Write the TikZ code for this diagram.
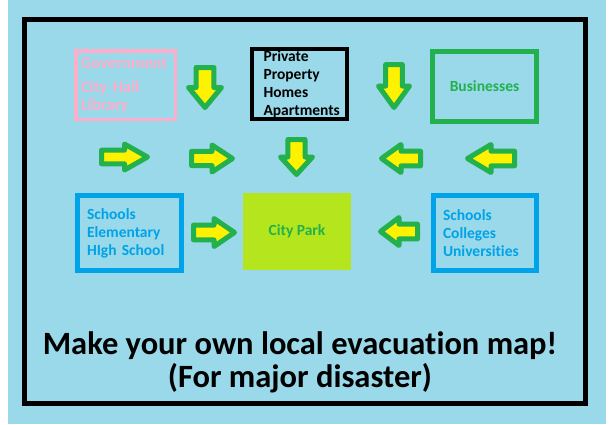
\documentclass[tikz,border=0pt]{standalone}
\usepackage{fontspec}
\setmainfont{Carlito}[Ligatures=CommonOff]
\definecolor{mapblue}{HTML}{99D9EA}
\definecolor{rose}{HTML}{FFAEC9}
\definecolor{exitgreen}{HTML}{22B14C}
\definecolor{exityellow}{HTML}{FFF200}
\definecolor{schoolblue}{HTML}{00A2E8}
\definecolor{parklime}{HTML}{B5E61D}

\begin{document}
\begin{tikzpicture}[x=1pt,y=-1pt,
  font=\fontsize{15.5}{18}\selectfont\bfseries,
  place/.style={minimum width=104,minimum height=70,inner sep=0pt,align=left},
  exit/.style={draw=exitgreen,fill=exityellow,line width=5pt,line join=round}]
\useasboundingbox (0,0) rectangle (615,424);
\fill[mapblue] (8,0) rectangle (606,424);
\draw[line width=5pt] (24.5,19.5) rectangle (585,403.5);
% places to leave from
\node[place,draw=rose,line width=3.5pt,minimum width=99.5,minimum height=68.5,text=rose,text width=89,
  font=\fontsize{16.5}{18}\selectfont\bfseries] (gov) at (125.5,85) {Government\\[6pt]City Hall\\Library};
\node[place,minimum width=95,text width=72] (home) at (299.5,84) {Private\\Property\\Homes\\Apartments};
\draw[line width=4pt] (home.north west) rectangle (home.south east);
\node[place,draw=exitgreen,line width=5pt,text=exitgreen,align=center] (shops) at (484.5,86.5) {Businesses};
\node[place,draw=schoolblue,line width=5pt,minimum height=75,text=schoolblue,text width=85] (schoolL) at (129.5,233) {Schools\\Elementary\\HIgh School};
\node[place,draw=schoolblue,line width=5pt,minimum width=103,minimum height=75,text=schoolblue,text width=84] (schoolR) at (485,233) {Schools\\Colleges\\Universities};
% meeting point
\node[place,fill=parklime,minimum width=108,minimum height=77,text=exitgreen,align=center] (park) at (297,231.5) {City Park};
% arrows: name/x/y/rotation/outer length/outer width
\foreach \n/\x/\y/\r/\lo/\wo in {d1/205/87.5/-90/45/38,d2/394/86/-90/48/36,d3/296.5/157/-90/40/37,
  r1/124.5/157/0/51/31,r2/212/158.5/0/46/32,r3/214/232.5/0/46/33,
  l1/401/158.5/180/44/33,l2/491/158.5/180/52/33,l3/399/231.5/180/42/33}{
  \pgfmathsetmacro\al{(\lo-5)/2}
  \pgfmathsetmacro\aw{(\wo-5)/2}
  \pgfmathsetmacro\as{(0.6*\wo-5)/2}
  \pgfmathsetmacro\ab{\al-(0.5*\lo-2.5)}
  \filldraw[exit,shift={(\x,\y)},rotate=\r] (-\al,-\as) -- (\ab,-\as) -- (\ab,-\aw) -- (\al,0)
    -- (\ab,\aw) -- (\ab,\as) -- (-\al,\as) -- cycle;}
\node[font=\fontsize{32.5}{33}\selectfont\bfseries,align=center] (title) at (300,362) {Make your own local evacuation map!\\(For major disaster)};
\end{tikzpicture}
\end{document}
